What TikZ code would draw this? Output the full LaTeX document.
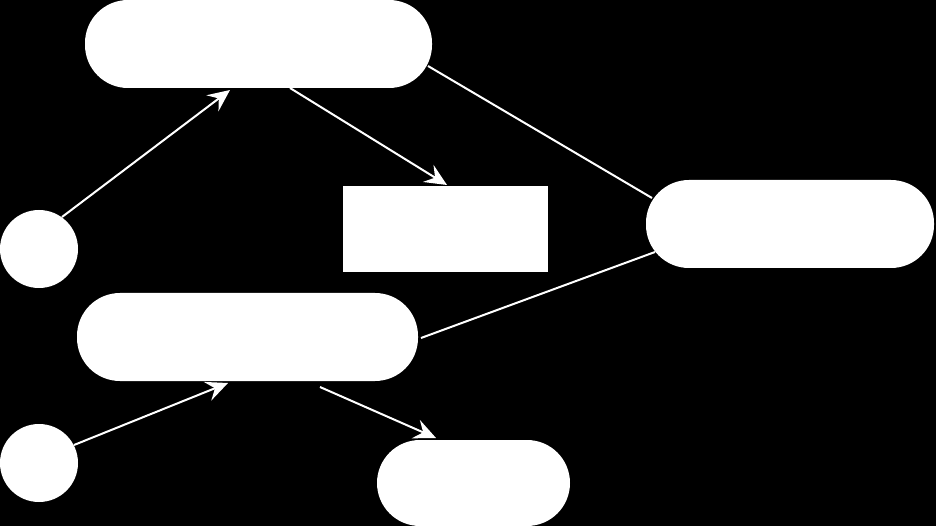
\documentclass[tikz,border=0pt]{standalone}
\usetikzlibrary{arrows.meta}
\begin{document}
\begin{tikzpicture}[x=1pt,y=-1pt,
  pill/.style={fill=white,draw=none,rounded corners=43pt,minimum height=88pt,inner sep=0pt},
  ball/.style={fill=white,circle,minimum size=78pt,inner sep=0pt},
  conn/.style={white,line width=2pt},
  arr/.style={conn,-{Stealth[length=22pt,width=20pt,inset=8pt]}}]
\fill[black] (0,0) rectangle (936,526);
\useasboundingbox (0,0) rectangle (936,526);
\node[pill,minimum width=347pt] (top) at (258.5,44) {};
\node[ball] (c1) at (39,249) {};
\node[fill=white,minimum width=205pt,minimum height=86pt,inner sep=0pt] (box) at (445.5,229) {};
\node[pill,minimum width=288pt] (right) at (790,224) {};
\node[pill,minimum width=341pt] (mid) at (247.5,337) {};
\node[ball] (c2) at (39,463) {};
\node[pill,minimum width=193pt,minimum height=86pt] (bot) at (473.5,483) {};
\coordinate (a1) at (230,90);
\coordinate (a2) at (447,185);
\coordinate (a3) at (228,383);
\coordinate (a4) at (436,438);
\draw[arr] (62,217) -- (a1);
\draw[arr] (290,88) -- (a2);
\draw[conn] (428,66) -- (652,198);
\draw[conn] (421,338) -- (655,252);
\draw[arr] (74,445) -- (a3);
\draw[arr] (320,387) -- (a4);
\end{tikzpicture}
\end{document}
